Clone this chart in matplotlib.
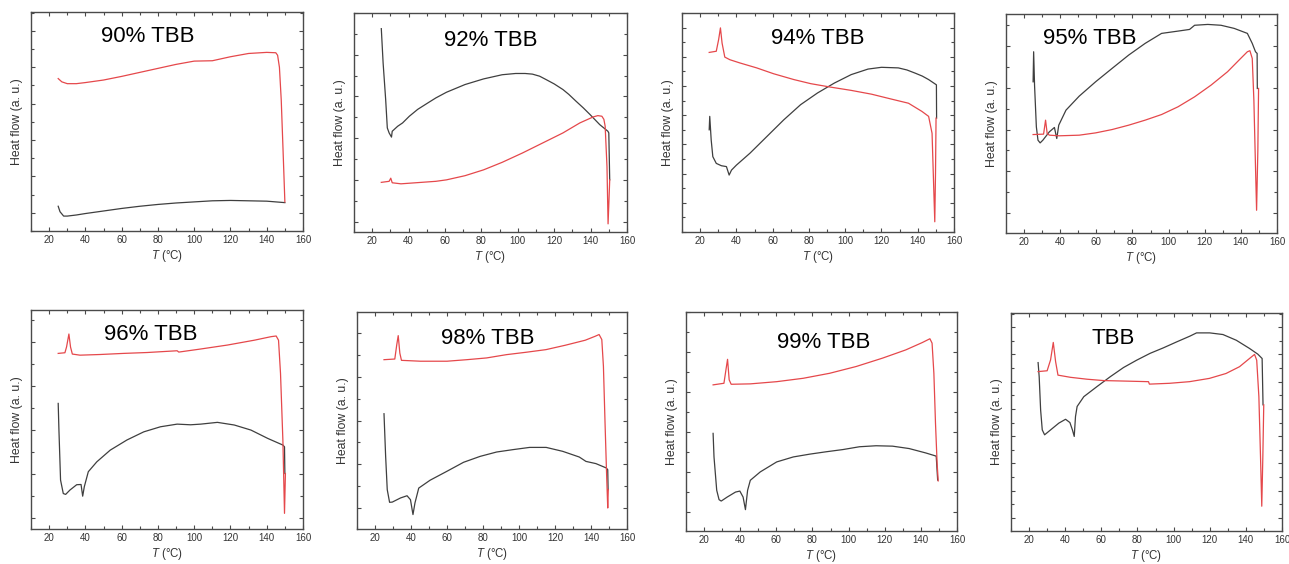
import numpy as np
import matplotlib.pyplot as plt
from matplotlib.ticker import MultipleLocator

plt.rcParams['font.family'] = ['Liberation Sans', 'DejaVu Sans']
plt.rcParams['mathtext.fontset'] = 'custom'
plt.rcParams['mathtext.rm'] = 'Liberation Sans'
plt.rcParams['mathtext.it'] = 'Liberation Sans:italic'

# Panel labels
titles = ['90% TBB', '92% TBB', '94% TBB', '95% TBB',
          '96% TBB', '98% TBB', '99% TBB', 'TBB']

# --- 90% TBB ---
t90_red = [25, 27, 30, 35, 40, 50, 60, 70, 80, 90, 100, 110, 120, 130, 140, 145, 146, 147, 148, 149, 150]
hf90_red = [3.69, 3.60, 3.55, 3.55, 3.58, 3.65, 3.75, 3.86, 3.97, 4.08, 4.17, 4.18, 4.29, 4.38, 4.41,
            4.40, 4.33, 4.0, 3.1, 1.72, 0.30]
t90_blk = [25, 26, 28, 30, 35, 40, 50, 60, 70, 80, 90, 100, 110, 120, 130, 140, 150]
hf90_blk = [0.18, 0.03, -0.09, -0.09, -0.06, -0.02, 0.05, 0.12, 0.18, 0.23, 0.27, 0.30, 0.33, 0.34,
            0.33, 0.32, 0.28]

# --- 92% TBB ---
t92_red = [25, 29.3, 30.2, 31, 35.8, 47, 55, 60.8, 71, 81.2, 91.4, 102.6, 113.7, 124.8, 134.1,
           141.5, 144, 146.2, 147.3, 148, 149.0, 149.6, 150.1, 150.5]
hf92_red = [1.88, 1.93, 2.08, 1.86, 1.81, 1.88, 1.93, 2.0, 2.2, 2.48, 2.84, 3.29, 3.77, 4.25, 4.73,
            5.02, 5.08, 5.05, 4.9, 4.57, 2.64, -0.11, 1.04, 2.0]
t92_blk = [25, 26, 27.4, 28.3, 29.3, 30.6, 31, 34, 36.7, 40.4, 45, 50.6, 55, 60.8, 71, 81.2, 91.4,
           98.8, 104, 108, 112, 115.5, 120, 124.8, 128, 132, 136, 139.7, 145, 149.5, 150.0, 150.5]
hf92_blk = [9.25, 7.6, 5.85, 4.49, 4.25, 4.05, 4.33, 4.57, 4.73, 5.05, 5.38, 5.69, 5.93, 6.20, 6.57,
            6.84, 7.04, 7.10, 7.10, 7.07, 6.97, 6.81, 6.60, 6.33, 6.10, 5.77, 5.45, 5.13, 4.65, 4.33,
            4.25, 2.0]

# --- 94% TBB ---
t94_red = [25, 28.9, 30.2, 31.2, 32.1, 33.6, 36.4, 41.9, 51.2, 60.5, 71.7, 81, 92.1, 103.3,
           114.5, 125.6, 134.9, 142.3, 146, 147.9, 148.8, 149.4, 149.8, 150.1]
hf94_red = [5.15, 5.19, 5.59, 5.99, 5.47, 4.99, 4.90, 4.79, 4.62, 4.42, 4.22, 4.08, 3.96, 3.85,
            3.72, 3.55, 3.41, 3.13, 2.96, 2.38, 0.55, -0.65, 1.0, 2.90]
t94_blk = [25, 25.3, 26.1, 27, 28.9, 31.7, 34.5, 36, 37.3, 40, 47.5, 56.8, 66.1, 75.4, 84.7,
           94, 103.3, 112.6, 120, 129.3, 134, 138.6, 142.5, 146, 150.3, 150.4]
hf94_blk = [2.50, 2.96, 2.15, 1.58, 1.35, 1.27, 1.24, 0.95, 1.12, 1.29, 1.70, 2.27, 2.84, 3.36,
            3.76, 4.10, 4.39, 4.58, 4.64, 4.62, 4.55, 4.44, 4.34, 4.22, 4.04, 2.90]

# --- 95% TBB ---
t95_red = [25, 30.8, 31.9, 32.8, 34.1, 39.5, 50.5, 59.6, 68.7, 77.9, 87, 96.1, 105.2, 114.4,
           123.5, 132.6, 139.9, 143.6, 145, 146.3, 147.2, 148.1, 148.7, 149.4, 149.8]
hf95_red = [3.76, 3.78, 4.45, 3.80, 3.73, 3.70, 3.73, 3.84, 4.0, 4.21, 4.45, 4.72, 5.09, 5.57,
            6.13, 6.77, 7.41, 7.73, 7.78, 7.41, 5.41, 2.21, 0.13, 3.0, 5.97]
t95_blk = [25, 25.3, 25.8, 26.8, 27.7, 28.9, 30.4, 34, 36.8, 38.1, 39.2, 43.2, 50.5, 59.6, 68.7,
           77.9, 87, 96.1, 105.2, 111.6, 114.4, 121.7, 129, 136.3, 143.6, 146.3, 148.1, 149, 149.1]
hf95_blk = [6.29, 7.73, 6.13, 4.13, 3.49, 3.36, 3.49, 3.89, 4.10, 3.57, 4.21, 4.93, 5.6, 6.29,
            6.93, 7.57, 8.13, 8.61, 8.72, 8.8, 9.0, 9.04, 9.0, 8.85, 8.61, 8.13, 7.73, 7.65, 5.97]

# --- 96% TBB ---
t96_red = [25, 28.7, 29.6, 30.9, 31.8, 32.8, 37, 48.1, 61, 74, 90.6, 91.5, 103.6, 118.4, 133.2,
           142.4, 145.2, 146.5, 147.6, 148.9, 149.8, 150.3]
hf96_red = [7.49, 7.52, 7.78, 8.37, 7.78, 7.46, 7.41, 7.44, 7.49, 7.53, 7.61, 7.55, 7.69, 7.87,
            8.09, 8.25, 8.28, 8.09, 6.58, 3.56, 0.23, 2.04]
t96_blk = [25, 25.4, 26.3, 27.8, 29.1, 31.5, 35.2, 37.6, 38.5, 39.4, 41.6, 46.3, 53.7, 62.9, 72.2,
           81.4, 90.6, 98, 103.6, 112.8, 122.1, 131.3, 140.6, 148.9, 149.8, 150]
hf96_blk = [5.22, 4.02, 1.74, 1.13, 1.09, 1.29, 1.53, 1.54, 1.01, 1.44, 2.12, 2.57, 3.10, 3.56,
            3.93, 4.16, 4.28, 4.25, 4.28, 4.36, 4.24, 4.01, 3.63, 3.33, 3.25, 2.04]

# --- 98% TBB ---
t98_red = [25, 31, 32.1, 32.9, 33.8, 34.7, 45.3, 60, 71, 82, 93, 104, 115, 125.7, 136.8, 142.3,
           144.5, 146, 146.9, 147.8, 148.7, 149.3, 149.6]
hf98_red = [6.78, 6.81, 7.47, 7.88, 7.08, 6.75, 6.71, 6.71, 6.78, 6.86, 7.01, 7.12, 7.24, 7.44,
            7.67, 7.85, 7.93, 7.70, 6.48, 3.89, 1.45, 0.0, 0.84]
t98_blk = [25, 25.9, 26.8, 28.1, 29.6, 34.2, 37.8, 39.7, 41.1, 42.2, 44.3, 50.6, 60, 69.2, 78.4,
           87.6, 96.8, 105.9, 115.1, 124.3, 133.5, 137.2, 142.7, 148.5, 149.3, 149.5]
hf98_blk = [4.31, 2.38, 0.84, 0.26, 0.27, 0.46, 0.56, 0.38, -0.30, 0.23, 0.91, 1.27, 1.68, 2.09,
            2.36, 2.56, 2.67, 2.77, 2.77, 2.59, 2.33, 2.13, 2.03, 1.83, 1.75, 0.84]

# --- 99% TBB ---
t99_red = [25, 31, 32.1, 33, 33.9, 35, 45.6, 60.2, 74.9, 89.5, 104.2, 118.8, 131.6, 140.8, 145,
           146.2, 147.2, 148.1, 149, 149.6]
hf99_red = [6.37, 6.45, 7.12, 7.65, 6.62, 6.40, 6.42, 6.53, 6.70, 6.95, 7.29, 7.71, 8.12, 8.49,
            8.68, 8.46, 6.95, 4.44, 2.43, 1.56]
t99_blk = [25, 25.5, 27, 28.3, 29.5, 32.8, 37.4, 39.8, 41.6, 42.9, 44.1, 45.6, 51.1, 60.2, 69.4,
           78.5, 87.7, 96.9, 106, 115.2, 124.3, 133.5, 142.7, 148.5, 149.3]
hf99_blk = [3.94, 2.76, 1.09, 0.62, 0.55, 0.75, 1.0, 1.05, 0.75, 0.12, 1.09, 1.59, 2.01, 2.51,
            2.76, 2.90, 3.02, 3.13, 3.27, 3.32, 3.30, 3.18, 2.96, 2.80, 1.60]

# --- TBB ---
tpure_red = [25, 30, 31.9, 33.4, 34.7, 36, 42.9, 52.1, 61.3, 74.1, 86.1, 86.6, 97.7, 108.8,
             119.8, 129, 136.5, 142, 144.8, 146, 147.2, 148.1, 148.8, 149.4, 149.9]
hfpure_red = [5.37, 5.40, 5.80, 6.44, 5.73, 5.24, 5.16, 5.09, 5.04, 5.02, 5.0, 4.91, 4.94, 5.0,
              5.12, 5.30, 5.55, 5.85, 6.0, 5.79, 4.45, 2.26, 0.43, 2.26, 4.15]
tpure_blk = [25, 25.6, 26.4, 27.3, 28.6, 31.9, 36.5, 40.2, 42.6, 44, 45, 45.7, 46.6, 50.3, 57.6,
             64.9, 72.3, 79.6, 87, 94.3, 101.7, 109, 112.7, 120, 127.3, 134.7, 142, 146.6, 149,
             149.5]
hfpure_blk = [5.70, 5.18, 3.96, 3.23, 3.05, 3.23, 3.48, 3.62, 3.50, 3.23, 2.99, 3.72, 4.09, 4.45,
              4.82, 5.18, 5.52, 5.79, 6.04, 6.24, 6.46, 6.67, 6.79, 6.79, 6.73, 6.52, 6.22, 6.01,
              5.85, 4.15]

series = [
    (t90_red, hf90_red, t90_blk, hf90_blk),
    (t92_red, hf92_red, t92_blk, hf92_blk),
    (t94_red, hf94_red, t94_blk, hf94_blk),
    (t95_red, hf95_red, t95_blk, hf95_blk),
    (t96_red, hf96_red, t96_blk, hf96_blk),
    (t98_red, hf98_red, t98_blk, hf98_blk),
    (t99_red, hf99_red, t99_blk, hf99_blk),
    (tpure_red, hfpure_red, tpure_blk, hfpure_blk),
]

# layout in pixels: left, top, right, bottom
W, H = 1289, 564
boxes = [(31, 12, 303, 231), (354, 13, 627, 232), (682, 13, 954, 232), (1006, 14, 1277, 233),
         (31, 310, 303, 529), (357, 312, 627, 529), (686, 312, 957, 531), (1011, 313, 1282, 531)]
ylims = [(-0.5, 5.52), (-0.5, 10.0), (-1.0, 6.5), (-0.96, 9.54),
         (-0.48, 9.46), (-0.96, 8.96), (-0.95, 10.02), (-0.48, 7.52)]
ymajor = [1, 2, 1, 2, 2, 2, 2, 1]
title_pos = [(0.43, 0.89), (0.50, 0.874), (0.50, 0.885), (0.31, 0.889),
             (0.44, 0.889), (0.486, 0.879), (0.507, 0.86), (0.378, 0.884)]

red = '#e5484b'
blk = '#3f3f3f'
frame = '#4a4a4a'

fig = plt.figure(figsize=(W / 100, H / 100), dpi=100)

for i in range(8):
    l, t, r, b = boxes[i]
    ax = fig.add_axes([l / W, 1 - b / H, (r - l) / W, (b - t) / H])
    tr, yr, tb, yb = series[i]
    ax.plot(tb, yb, color=blk, lw=0.9)
    ax.plot(tr, yr, color=red, lw=0.9)
    ax.set_xlim(10, 160)
    ax.set_ylim(*ylims[i])
    ax.xaxis.set_major_locator(MultipleLocator(20))
    ax.xaxis.set_minor_locator(MultipleLocator(10))
    ax.yaxis.set_major_locator(MultipleLocator(ymajor[i]))
    ax.yaxis.set_minor_locator(MultipleLocator(ymajor[i] / 2))
    ax.tick_params(which='both', direction='in', top=True, right=True, colors=frame,
                   labelsize=7, labelcolor='#333333', width=0.8, pad=3)
    ax.tick_params(which='major', length=3)
    ax.tick_params(which='minor', length=2)
    ax.tick_params(axis='y', labelleft=False)
    for s in ax.spines.values():
        s.set_color(frame)
        s.set_linewidth(1.0)
    ax.set_xlabel(r'$T$ (°C)', fontsize=8.3, color='#333333', labelpad=2)
    ax.set_ylabel('Heat flow (a. u.)', fontsize=8.8, color='#333333', labelpad=3)
    ax.text(title_pos[i][0], title_pos[i][1], titles[i], transform=ax.transAxes,
            fontsize=16, ha='center', va='center', color='black')

fig.savefig('out.png', dpi=100)
